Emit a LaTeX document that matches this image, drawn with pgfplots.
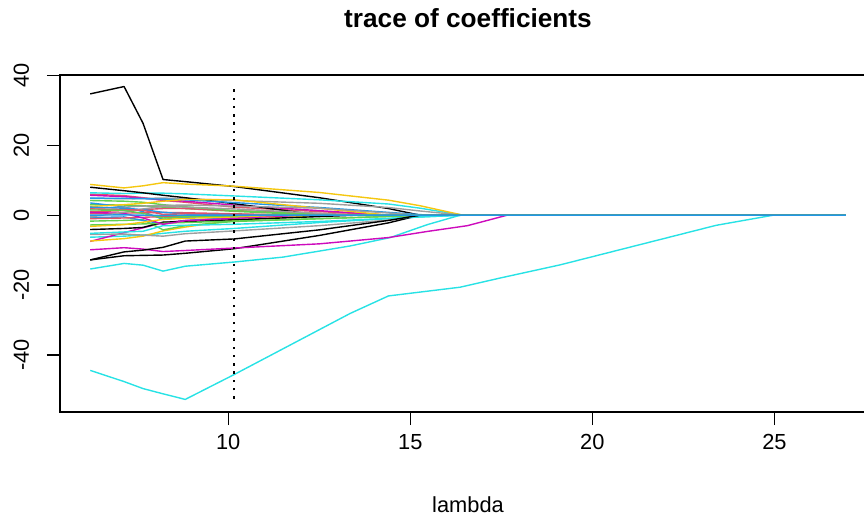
\documentclass[border=0pt]{standalone}
\usepackage{fontspec}
\setmainfont{Liberation Sans}
\usepackage{pgfplots}
\pgfplotsset{compat=1.18}
\definecolor{Rk}{HTML}{000000}
\definecolor{Rr}{HTML}{DF536B}
\definecolor{Rg}{HTML}{61D04F}
\definecolor{Rb}{HTML}{2297E6}
\definecolor{Rc}{HTML}{28E2E5}
\definecolor{Rm}{HTML}{CD0BBC}
\definecolor{Ry}{HTML}{F5C710}
\definecolor{Rgr}{HTML}{9E9E9E}
\begin{document}
\begin{tikzpicture}
\begin{axis}[
  name=ax,
  scale only axis, width=816bp, height=337bp,
  xmin=5.38, xmax=27.79, ymin=-56.3, ymax=40.1,
  axis line style={line width=1.3bp, black},
  xtick={10,15,20,25}, xticklabels={10,15,20,25},
  ytick={-40,-20,0,20,40}, yticklabels={-40,-20,0,20,40},
  xtick pos=left, ytick pos=left,
  tick align=outside, major tick length=13bp,
  tick style={line width=1.3bp, black},
  tick label style={font=\fontsize{21.9}{26}\selectfont, inner sep=0pt},
  xticklabel style={anchor=base},
  yticklabel style={rotate=90, anchor=base},
  xticklabel shift=24bp, yticklabel shift=18bp,
  title={trace of coefficients},
  title style={font=\fontsize{26.3}{31}\selectfont\bfseries, anchor=base, at={(axis description cs:0.5,1)}, yshift=42bp, inner sep=0pt},
  xlabel={lambda},
  xlabel style={font=\fontsize{21.9}{26}\selectfont, anchor=base, at={(axis description cs:0.5,0)}, yshift=-100bp, inner sep=0pt},
  every axis plot/.append style={line width=1.4bp, line join=round},
]
\addplot[Rk] coordinates {(6.21,34.7)(7.14,36.8)(7.66,26.3)(8.21,10.2)(8.82,9.6)(10.16,8.2)(12.5,5.0)(14.4,1.9)(15.27,0)(26.96,0)};
\addplot[Rr] coordinates {(6.21,6.0)(7.14,5.6)(7.66,5.0)(8.21,4.2)(8.82,3.7)(10.16,2.3)(14.4,0)(26.96,0)};
\addplot[Rg] coordinates {(6.21,3.0)(7.14,2.9)(7.66,2.7)(8.21,2.3)(8.82,1.9)(10.16,1.1)(12.5,0)(26.96,0)};
\addplot[Rb] coordinates {(6.21,3.5)(7.14,2.4)(7.66,1.0)(8.21,-1.2)(8.82,-0.6)(10.16,-0.3)(12.5,0)(26.96,0)};
\addplot[Rc] coordinates {(6.21,6.4)(7.14,6.2)(7.66,6.3)(8.21,6.3)(8.82,6.1)(10.16,5.5)(12.5,4.4)(14.4,3.2)(15.27,2.0)(16.45,0)(26.96,0)};
\addplot[Rm] coordinates {(6.21,5.7)(7.14,5.3)(7.66,4.9)(8.21,4.4)(8.82,4.0)(10.16,2.9)(14.4,0)(26.96,0)};
\addplot[Ry] coordinates {(6.21,8.8)(7.14,7.8)(7.66,8.4)(8.21,9.3)(8.82,8.9)(10.16,8.3)(12.5,6.5)(14.4,4.3)(15.27,2.7)(16.45,0)(26.96,0)};
\addplot[Rgr] coordinates {(6.21,4.8)(7.14,4.7)(7.66,4.8)(8.21,4.9)(8.82,4.7)(10.16,4.2)(12.5,3.4)(14.4,2.2)(15.27,1.2)(16.45,0)(26.96,0)};
\addplot[Rk] coordinates {(6.21,8.0)(7.14,7.0)(7.66,6.4)(8.21,5.7)(8.82,5.0)(10.16,3.3)(12.5,0)(26.96,0)};
\addplot[Rr] coordinates {(6.21,1.0)(7.14,1.3)(7.66,1.6)(8.21,1.9)(8.82,1.9)(10.16,1.3)(14.0,0)(26.96,0)};
\addplot[Rg] coordinates {(6.21,4.2)(7.14,4.0)(7.66,3.7)(8.21,3.0)(8.82,2.4)(10.16,1.3)(13.0,0)(26.96,0)};
\addplot[Rb] coordinates {(6.21,4.9)(7.14,4.8)(7.66,4.7)(8.21,4.6)(8.82,4.4)(10.16,3.6)(12.5,2.2)(15.5,0)(26.96,0)};
\addplot[Rc] coordinates {(6.21,-6.3)(7.14,-6.0)(7.66,-5.7)(8.21,-5.2)(8.82,-4.6)(10.16,-3.8)(12.5,-2.1)(15.27,-0.5)(16.45,0)(26.96,0)};
\addplot[Rm] coordinates {(6.21,-7.5)(7.14,-5.0)(7.66,-3.6)(8.21,-2.2)(8.82,-1.5)(10.16,-0.8)(12.0,0)(26.96,0)};
\addplot[Ry] coordinates {(6.21,-7.4)(7.14,-6.7)(7.66,-6.0)(8.21,-4.5)(8.82,-3.4)(10.16,-1.4)(12.5,0)(26.96,0)};
\addplot[Rgr] coordinates {(6.21,-5.5)(7.14,-5.4)(7.66,-5.7)(8.21,-6.0)(8.82,-5.3)(10.16,-4.5)(12.5,-3.0)(14.4,-1.4)(15.27,0)(26.96,0)};
\addplot[Rk] coordinates {(6.21,-12.8)(7.14,-11.6)(7.66,-11.5)(8.21,-11.4)(8.82,-10.9)(10.16,-9.6)(12.5,-5.8)(14.4,-2.2)(15.27,0)(26.96,0)};
\addplot[Rr] coordinates {(6.21,0.4)(7.14,0.6)(7.66,0.7)(8.21,0.8)(8.82,0.7)(10.16,0.4)(12.0,0)(26.96,0)};
\addplot[Rg] coordinates {(6.21,-1.7)(7.14,-1.5)(7.66,-1.3)(8.21,-4.2)(8.82,-3.0)(10.16,-1.8)(12.5,-1.0)(15.5,0)(26.96,0)};
\addplot[Rb] coordinates {(6.21,-0.7)(7.14,-0.5)(7.66,-1.5)(8.21,-2.5)(8.82,-1.6)(10.16,-0.6)(12.0,0)(26.96,0)};
\addplot[Rc] coordinates {(6.21,-15.4)(7.14,-13.8)(7.66,-14.3)(8.21,-16.0)(8.82,-14.6)(10.16,-13.4)(11.5,-12.0)(13.35,-8.8)(14.45,-6.4)(15.47,-2.7)(16.37,0)(26.96,0)};
\addplot[Rm] coordinates {(6.21,-9.9)(7.14,-9.3)(7.66,-9.7)(8.21,-10.4)(8.82,-10.1)(10.16,-9.4)(12.5,-8.2)(14.4,-6.4)(15.5,-4.6)(16.57,-3.0)(17.66,0)(26.96,0)};
\addplot[Ry] coordinates {(6.21,2.5)(7.14,3.0)(7.66,3.4)(8.21,4.0)(8.82,4.5)(10.16,4.4)(14.4,0)(26.96,0)};
\addplot[Rgr] coordinates {(6.21,2.0)(7.14,2.3)(7.66,2.6)(8.21,2.8)(8.82,2.9)(10.16,2.6)(12.5,2.0)(15.27,0)(26.96,0)};
\addplot[Rk] coordinates {(6.21,-4.1)(7.14,-3.8)(7.66,-3.5)(8.21,-2.0)(8.82,-1.8)(10.16,-1.3)(12.5,-0.4)(13.5,0)(26.96,0)};
\addplot[Rr] coordinates {(6.21,-1.0)(7.14,-0.8)(7.66,-0.6)(8.21,-0.4)(8.82,-0.3)(10.16,-0.2)(11.0,0)(26.96,0)};
\addplot[Rg] coordinates {(6.21,-2.8)(7.14,-2.6)(7.66,-2.5)(8.21,-2.3)(8.82,-2.1)(10.16,-1.7)(12.5,-1.0)(15.5,0)(26.96,0)};
\addplot[Rb] coordinates {(6.21,2.3)(7.14,2.0)(7.66,1.6)(8.21,0.8)(8.82,0.4)(10.16,0.2)(11.0,0)(26.96,0)};
\addplot[Rc] coordinates {(6.21,-44.4)(7.14,-47.6)(7.66,-49.6)(8.21,-51.1)(8.82,-52.7)(10.16,-45.6)(13.35,-28.1)(14.4,-23.1)(16.37,-20.6)(17.5,-17.9)(19.12,-14.2)(23.4,-2.9)(24.97,0)(26.96,0)};
\addplot[Rc] coordinates {(6.21,-5.2)(7.14,-4.8)(7.66,-4.6)(8.21,-3.0)(8.82,-2.9)(10.16,-2.6)(12.5,-1.8)(14.4,-0.9)(16.45,0)(26.96,0)};
\addplot[Rm] coordinates {(6.21,0.8)(7.14,0.5)(7.66,-0.8)(8.21,-2.6)(8.82,-1.6)(10.16,-0.9)(12.0,0)(26.96,0)};
\addplot[Ry] coordinates {(6.21,-3.2)(7.14,-2.7)(7.66,-2.0)(8.21,-1.2)(8.82,-0.9)(10.16,-0.5)(11.5,0)(26.96,0)};
\addplot[Rgr] coordinates {(6.21,-0.5)(7.14,0.8)(7.66,1.8)(8.21,2.5)(8.82,2.3)(10.16,1.8)(13.5,0)(26.96,0)};
\addplot[Rk] coordinates {(6.21,-12.8)(7.14,-10.5)(7.66,-10.0)(8.21,-9.2)(8.82,-7.4)(10.16,-6.8)(12.5,-4.2)(14.4,-1.5)(15.27,0)(26.96,0)};
\addplot[Rr] coordinates {(6.21,1.8)(7.14,1.6)(7.66,1.4)(8.21,0.2)(8.82,0.4)(10.16,0.3)(11.5,0)(26.96,0)};
\addplot[Rg] coordinates {(6.21,1.5)(7.14,1.4)(7.66,0.5)(8.21,-0.8)(8.82,-0.4)(10.16,-0.2)(11.0,0)(26.96,0)};
\addplot[Rb] coordinates {(6.21,0)(7.14,0.1)(7.66,0)(8.21,-0.1)(8.82,0)(26.96,0)};
\addplot[black, line width=2.2bp, dash pattern=on 2.4bp off 5.9bp] coordinates {(10.16,-52.5)(10.16,36.6)};
\end{axis}
\pgfresetboundingbox
\path[use as bounding box] (ax.south west) ++(-60bp,-104bp) rectangle ++(864bp,516bp);
\end{tikzpicture}
\end{document}
